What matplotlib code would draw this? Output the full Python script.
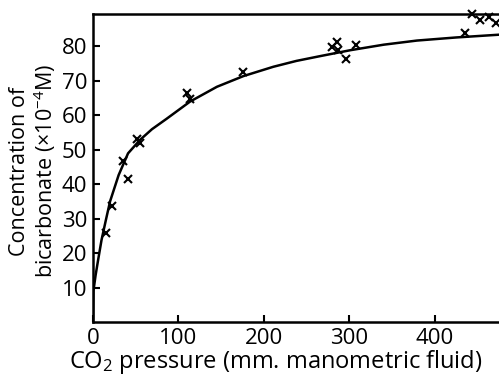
import matplotlib
matplotlib.use("Agg")
import matplotlib.pyplot as plt

plt.rcParams["font.family"] = "Open Sans"
plt.rcParams["mathtext.fontset"] = "custom"
plt.rcParams["mathtext.rm"] = "Open Sans"
plt.rcParams["mathtext.it"] = "Open Sans:italic"
plt.rcParams["font.size"] = 16

# measured points (CO2 pressure, bicarbonate x10^-4 M)
p_obs = [15, 22.6, 35.5, 40.5, 51, 55, 110, 113.5, 176, 280, 286, 287, 295.5, 307.6,
         435, 443, 452.6, 463.5, 471]
c_obs = [25.9, 33.7, 46.8, 41.4, 53, 52, 66.3, 64.6, 72.6, 79.6, 81.3, 79, 76.3, 80.3,
         83.7, 89.3, 87.5, 88.3, 86.8]

# drawn curve
p_fit = [0, 0.5, 3, 6, 10, 15, 20, 30, 41, 55, 69, 86, 113.5, 145, 176, 211, 238, 266,
         301, 340, 379, 425, 475]
c_fit = [0, 9, 13.5, 18, 23.8, 29.5, 35, 42.6, 48.9, 52.8, 55.9, 58.9, 63.9, 68.2, 71.3,
         74.0, 75.7, 77.1, 78.8, 80.4, 81.6, 82.5, 83.3]

fig = plt.figure(figsize=(4.99, 3.77), dpi=100)
ax = fig.add_axes([93 / 499, 55 / 377, 1 - 93 / 499, 308 / 377])

ax.plot(p_fit, c_fit, color="black", lw=1.8)
ax.plot(p_obs, c_obs, "x", color="black", ms=6, mew=1.5, clip_on=False)

ax.set_xlim(0, 475)
ax.set_ylim(0, 89.3)
ax.set_xticks([0, 100, 200, 300, 400])
ax.set_yticks([10, 20, 30, 40, 50, 60, 70, 80])
ax.tick_params(direction="in", length=5, width=1.5, pad=4, labelsize=16)

ax.spines["right"].set_visible(False)
for s in ["left", "bottom", "top"]:
    ax.spines[s].set_linewidth(1.8)

ax.set_xlabel("CO$_2$ pressure (mm. manometric fluid)", fontsize=17)
ax.xaxis.set_label_coords(0.451, -0.085)
ax.set_ylabel("Concentration of\nbicarbonate (×10$^{-4}$M)", fontsize=15.5,
              linespacing=1.05)
ax.yaxis.set_label_coords(-0.087, 0.49)

plt.savefig("out.png", dpi=100)
